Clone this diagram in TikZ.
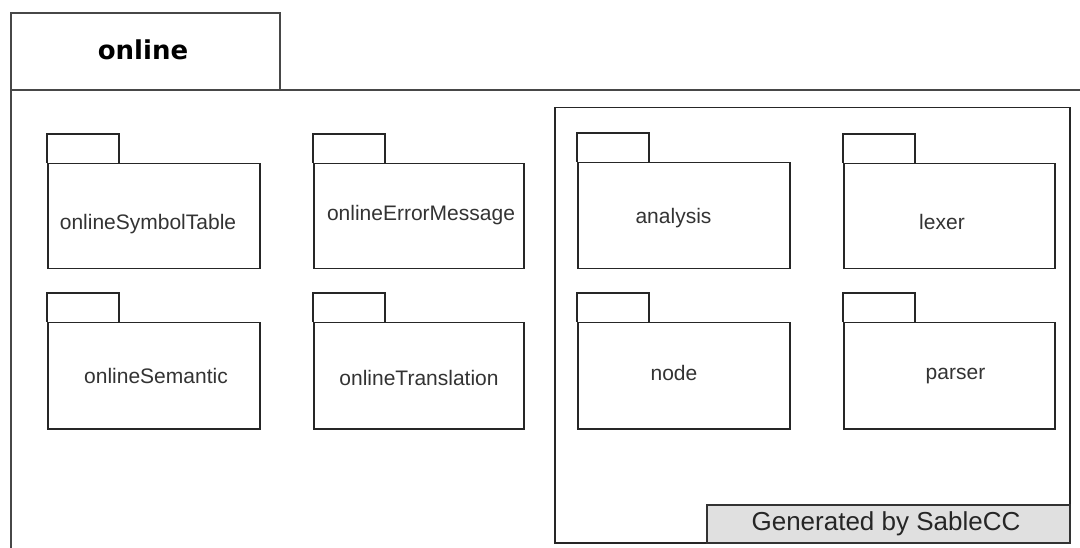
\documentclass[tikz,border=0pt]{standalone}
\usepackage{fontspec}
\setmainfont{Liberation Sans}
\newfontfamily\titlefont{DejaVu Sans}
\begin{document}
\begin{tikzpicture}[x=1pt,y=-1pt,
  frame/.style={draw=black!72, line width=2pt, rectangle, inner sep=0pt, anchor=north west},
  pkgline/.style={draw=black!85, line width=1.5pt},
  pkgbody/.style={pkgline, rectangle, inner sep=0pt, anchor=north west},
  pkglabel/.style={anchor=base, text=black!80, inner sep=0pt,
    font=\fontsize{21}{25}\selectfont},
  genbox/.style={draw=black!80, line width=1.6pt, fill=black!12, rectangle,
    inner sep=0pt, anchor=north west},
  genlabel/.style={anchor=base, text=black!85, inner sep=0pt,
    font=\fontsize{26}{30}\selectfont},
]
\useasboundingbox (0,0) rectangle (1080,548);
\clip (0,0) rectangle (1080,548);
\fill[white] (0,0) rectangle (1080,548);

% UML package symbol: body node plus the small tab on its upper left
\newcommand\umlpkg[5]{%
  \node[pkgbody, minimum width=#4pt, minimum height=#5pt] (#1) at (#2,#3) {};
  \draw[pkgline] (#1.north west) -- ++(0,-29) -- ++(72,0) -- ++(0,29);
}

% enclosing package "online"
\node[frame, minimum width=269pt, minimum height=77pt] (maintab) at (10,12.5) {};
\node[frame, minimum width=1100pt, minimum height=480pt] (mainbody) at (10,89) {};
\node[anchor=base, inner sep=0pt,
  font=\titlefont\bfseries\fontsize{26}{30}\selectfont] (title) at (143,60) {online};

% hand-written packages
\umlpkg{sym}{47}{163}{212}{105}
\umlpkg{err}{313}{163}{210}{105}
\umlpkg{sem}{47}{322}{212}{106}
\umlpkg{trans}{313}{322}{210}{106}
\node[pkglabel] (sym-l) at (148,230) {onlineSymbolTable};
\node[pkglabel] (err-l) at (421,220.7) {onlineErrorMessage};
\node[pkglabel] (sem-l) at (156,384) {onlineSemantic};
\node[pkglabel] (trans-l) at (419,385) {onlineTranslation};

% generated packages
\node[pkgbody, draw=black!85, minimum width=515pt, minimum height=435pt] (gen) at (554,107) {};
\umlpkg{ana}{577}{162}{212}{106}
\umlpkg{lex}{843}{163}{211}{105}
\umlpkg{nod}{577}{322}{212}{106}
\umlpkg{par}{843}{322}{211}{106}
\node[pkglabel] (ana-l) at (673.5,224) {analysis};
\node[pkglabel] (lex-l) at (942,230) {lexer};
\node[pkglabel] (nod-l) at (674,380.7) {node};
\node[pkglabel] (par-l) at (955.5,380) {parser};

\node[genbox, minimum width=363pt, minimum height=38pt] (genbar) at (706,504) {};
\node[genlabel] (gen-l) at (886,530) {Generated by SableCC};
\end{tikzpicture}
\end{document}
